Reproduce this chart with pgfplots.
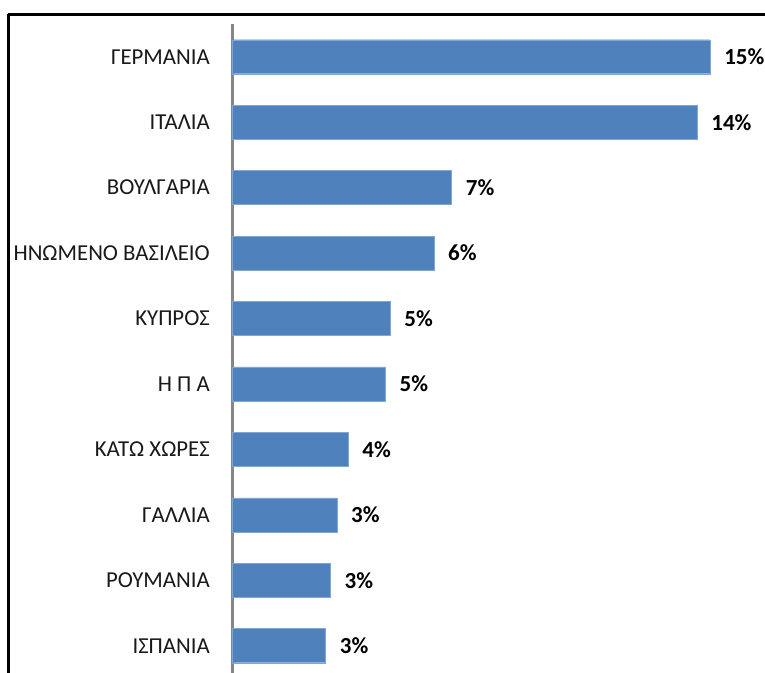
\documentclass[border=0pt]{standalone}
\usepackage{fontspec}
\setmainfont{Carlito}
\usepackage{pgfplots}
\pgfplotsset{compat=1.18}
\definecolor{barblue}{HTML}{4F81BD}
\definecolor{axgray}{HTML}{868686}

\begin{document}
\begin{tikzpicture}[x=1pt,y=-1pt]
\begin{axis}[
  at={(232pt,-678.4pt)}, anchor=south west,
  scale only axis, width=533pt, height=654.4pt,
  xbar, bar width=0.52, y dir=reverse,
  xmin=0, xmax=16.5, ymin=-0.5, ymax=9.5,
  axis x line=none, axis y line*=left,
  y axis line style={axgray, line width=3pt, -},
  ytick={0,...,9}, major tick length=0pt,
  yticklabels={ΓΕΡΜΑΝΙΑ, ΙΤΑΛΙΑ, ΒΟΥΛΓΑΡΙΑ, ΗΝΩΜΕΝΟ ΒΑΣΙΛΕΙΟ, ΚΥΠΡΟΣ, Η Π Α, ΚΑΤΩ ΧΩΡΕΣ, ΓΑΛΛΙΑ, ΡΟΥΜΑΝΙΑ, ΙΣΠΑΝΙΑ},
  yticklabel style={font=\fontsize{22.8}{26}\selectfont, anchor=east, inner sep=0pt, xshift=-22pt, text=black!90},
  nodes near coords, point meta=explicit symbolic,
  nodes near coords style={font=\fontsize{23}{27}\selectfont\bfseries, anchor=west, inner sep=0pt, xshift=14pt, text=black},
  clip=false,
]
\addplot[fill=barblue, draw=barblue!70!white] coordinates {
  (14.8,0) [15\%]
  (14.4,1) [14\%]
  (6.8,2) [7\%]
  (6.25,3) [6\%]
  (4.9,4) [5\%]
  (4.75,5) [5\%]
  (3.6,6) [4\%]
  (3.25,7) [3\%]
  (3.05,8) [3\%]
  (2.9,9) [3\%]
};
\end{axis}
\draw[line width=3pt] (8,14) -- (900,14);
\draw[line width=3pt] (8,14) -- (8,900);
\pgfresetboundingbox
\path (0,0) rectangle (765,672);
\end{tikzpicture}
\end{document}
